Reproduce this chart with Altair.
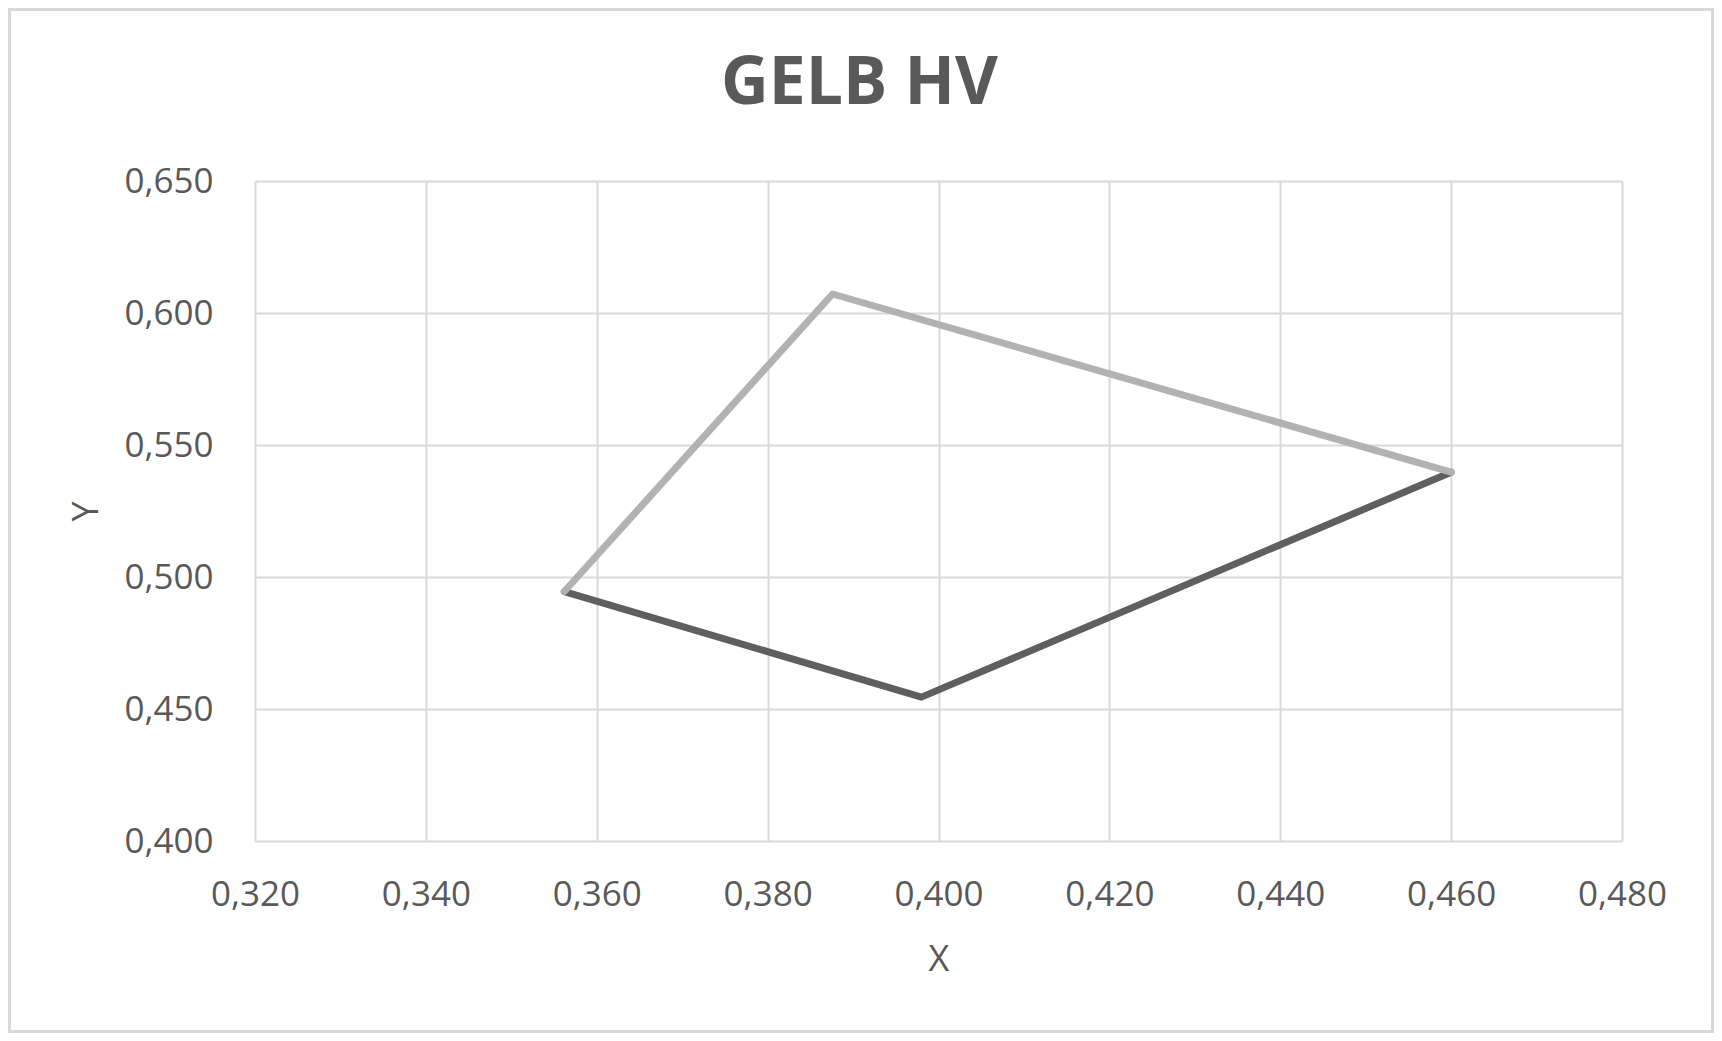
import altair as alt
import pandas as pd

# Data
light_x = [0.3562, 0.3876, 0.4600]
light_y = [0.4945, 0.6072, 0.5397]
dark_x = [0.3562, 0.3980, 0.4600]
dark_y = [0.4945, 0.4545, 0.5397]

x_ticks = [0.32, 0.34, 0.36, 0.38, 0.40, 0.42, 0.44, 0.46, 0.48]
y_ticks = [0.40, 0.45, 0.50, 0.55, 0.60, 0.65]

title_text = "GELB HV"
x_title = "X"
y_title = "Y"

FONT = "Open Sans"
TEXT = "#595959"
GRID = "#D9D9D9"

W, H = 1367, 660
PAD = {"left": 247, "top": 173, "right": 92, "bottom": 192}

rows = []
for i, (x, y) in enumerate(zip(light_x, light_y)):
    rows.append({"series": "light", "x": x, "y": y, "o": i})
for i, (x, y) in enumerate(zip(dark_x, dark_y)):
    rows.append({"series": "dark", "x": x, "y": y, "o": i})
df = pd.DataFrame(rows)

label_expr = "replace(format(datum.value, '.3f'), '.', ',')"

x_enc = alt.X(
    "x:Q",
    scale=alt.Scale(domain=[0.32, 0.48], nice=False, zero=False),
    axis=alt.Axis(
        values=x_ticks, labelExpr=label_expr, title=x_title,
        grid=True, gridColor=GRID, gridWidth=2, domain=False, ticks=False,
        labelFont=FONT, labelFontSize=35, labelColor=TEXT, labelPadding=36,
        labelFlush=False, labelOverlap=False,
        titleFont=FONT, titleFontSize=36, titleColor=TEXT, titleFontWeight="normal",
        titleBaseline="alphabetic", titleY=129,
    ),
)
y_enc = alt.Y(
    "y:Q",
    scale=alt.Scale(domain=[0.40, 0.65], nice=False, zero=False),
    axis=alt.Axis(
        values=y_ticks, labelExpr=label_expr, title=y_title,
        grid=True, gridColor=GRID, gridWidth=2, domain=False, ticks=False,
        labelFont=FONT, labelFontSize=35, labelColor=TEXT, labelPadding=42,
        labelFlush=False, labelOverlap=False,
        titleFont=FONT, titleFontSize=36, titleColor=TEXT, titleFontWeight="normal",
        titleBaseline="alphabetic", titleX=-158,
    ),
)

base = alt.Chart(df)

dark = base.transform_filter(alt.datum.series == "dark").mark_line(
    color="#5F5F5F", strokeWidth=7, strokeCap="round", strokeJoin="round"
).encode(x=x_enc, y=y_enc, order="o:Q")

light = base.transform_filter(alt.datum.series == "light").mark_line(
    color="#B2B2B2", strokeWidth=7, strokeCap="round", strokeJoin="round"
).encode(x=x_enc, y=y_enc, order="o:Q")

frame = alt.Chart(pd.DataFrame({"a": [0]})).mark_rect(
    fill=None, stroke=GRID, strokeWidth=3
).encode(
    x=alt.value(-PAD["left"] + 1.5),
    x2=alt.value(W + PAD["right"] - 1.5),
    y=alt.value(-PAD["top"] + 1.5),
    y2=alt.value(H + PAD["bottom"] - 1.5),
)

chart = alt.layer(frame, dark, light).properties(
    width=W,
    height=H,
    padding=PAD,
    autosize=alt.AutoSizeParams(type="none"),
    title=alt.TitleParams(
        text=title_text, font=FONT, fontSize=66, fontWeight="bold",
        color=TEXT, anchor="middle", baseline="alphabetic", offset=-98,
        dx=-79, dy=64,
    ),
).configure_view(stroke=None).configure(background="white")

chart.save("out.html", embed_options={"renderer": "svg", "actions": False})
